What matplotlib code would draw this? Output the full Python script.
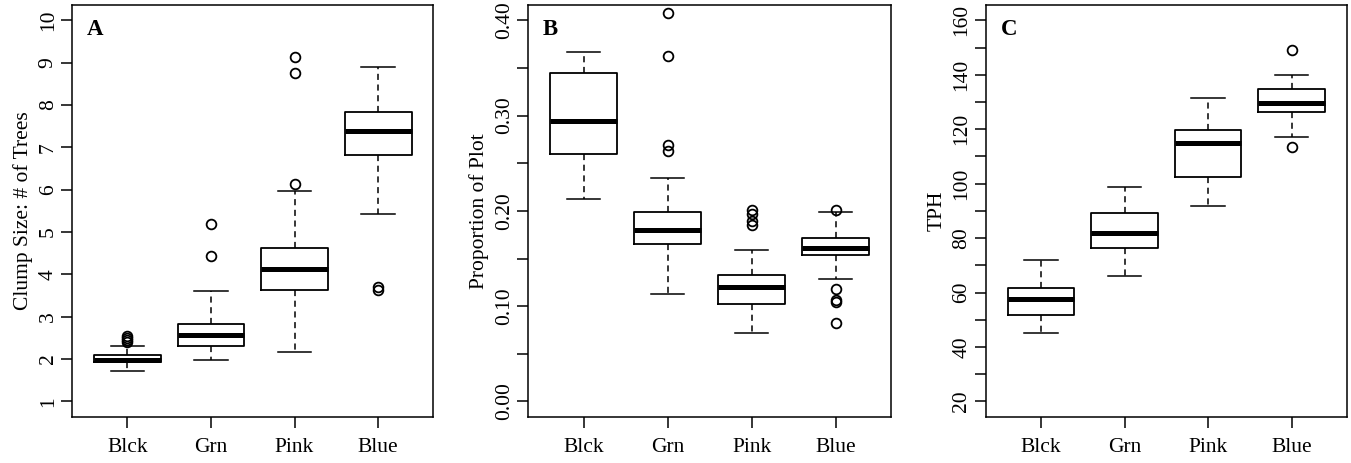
import matplotlib
matplotlib.use("Agg")
import matplotlib.pyplot as plt
import numpy as np

plt.rcParams['font.family'] = ['Liberation Serif', 'DejaVu Serif']

groups = ["Blck", "Grn", "Pink", "Blue"]

# Panel A: clump size
a_med = [1.99, 2.56, 4.13, 7.38]
a_q1 = [1.92, 2.31, 3.63, 6.83]
a_q3 = [2.10, 2.83, 4.62, 7.84]
a_lo = [1.71, 1.99, 2.16, 5.42]
a_hi = [2.32, 3.60, 5.96, 8.89]
a_out = [[2.40, 2.45, 2.50, 2.55], [4.44, 5.19], [6.13, 8.76, 9.13], [3.63, 3.71]]

# Panel B: proportion of plot
b_med = [0.294, 0.180, 0.120, 0.161]
b_q1 = [0.260, 0.165, 0.102, 0.154]
b_q3 = [0.345, 0.199, 0.133, 0.172]
b_lo = [0.212, 0.113, 0.072, 0.129]
b_hi = [0.367, 0.235, 0.159, 0.199]
b_out = [[], [0.263, 0.269, 0.363, 0.408],
         [0.185, 0.189, 0.197, 0.201], [0.082, 0.104, 0.107, 0.118, 0.201]]

# Panel C: TPH
c_med = [57.8, 81.9, 115.1, 129.7]
c_q1 = [51.6, 76.2, 102.4, 126.5]
c_q3 = [61.5, 89.4, 119.7, 134.9]
c_lo = [45.2, 66.2, 91.8, 117.1]
c_hi = [72.1, 98.7, 131.3, 140.1]
c_out = [[], [], [], [113.5, 149.1]]

FS = 15.5


def make_stats(med, q1, q3, lo, hi, out):
    return [dict(med=m, q1=a, q3=b, whislo=l, whishi=h, fliers=o, label=g)
            for m, a, b, l, h, o, g in zip(med, q1, q3, lo, hi, out, groups)]


def draw(ax, stats, ylim, ticks, labels, ylabel, letter):
    ax.bxp(stats, positions=range(1, 5), widths=0.8, showfliers=True,
           boxprops=dict(color='black', linewidth=1.3),
           medianprops=dict(color='black', linewidth=3.6, solid_capstyle='butt'),
           whiskerprops=dict(color='black', linewidth=1.1, linestyle=(0, (4, 3))),
           capprops=dict(color='black', linewidth=1.1),
           capwidths=0.4,
           flierprops=dict(marker='o', markerfacecolor='none', markeredgecolor='black',
                           markersize=7, markeredgewidth=1.3))
    ax.set_xlim(0.34, 4.66)
    ax.set_ylim(*ylim)
    ax.set_xticks(range(1, 5))
    ax.set_xticklabels(groups, fontsize=FS)
    ax.set_yticks(ticks)
    ax.set_yticklabels(labels, fontsize=FS, rotation=90, va='center')
    ax.tick_params(direction='out', length=8, width=1.1)
    ax.tick_params(axis='y', pad=2.5)
    ax.tick_params(axis='x', pad=7)
    for s in ax.spines.values():
        s.set_linewidth(1.1)
    ax.set_ylabel(ylabel, fontsize=FS, labelpad=4)
    ax.text(0.04, 0.965, letter, transform=ax.transAxes, fontsize=16.5,
            fontweight='bold', va='top', ha='left')


fig = plt.figure(figsize=(13.51, 4.63), dpi=100)
axA = fig.add_axes([0.0535, 0.100, 0.2672, 0.889])
axB = fig.add_axes([0.391, 0.100, 0.2685, 0.889])
axC = fig.add_axes([0.7298, 0.100, 0.267, 0.889])

draw(axA, make_stats(a_med, a_q1, a_q3, a_lo, a_hi, a_out), (0.64, 10.36),
     list(range(1, 11)), [str(i) for i in range(1, 11)], "Clump Size: # of Trees", "A")

bt = np.arange(0, 0.41, 0.05)
draw(axB, make_stats(b_med, b_q1, b_q3, b_lo, b_hi, b_out), (-0.016, 0.416),
     bt, ["%.2f" % t if i % 2 == 0 else "" for i, t in enumerate(bt)],
     "Proportion of Plot", "B")

ct = np.arange(20, 161, 10)
draw(axC, make_stats(c_med, c_q1, c_q3, c_lo, c_hi, c_out), (14.4, 165.6),
     ct, [str(t) if i % 2 == 0 else "" for i, t in enumerate(ct)], "TPH", "C")

fig.savefig("out.png", dpi=100)
